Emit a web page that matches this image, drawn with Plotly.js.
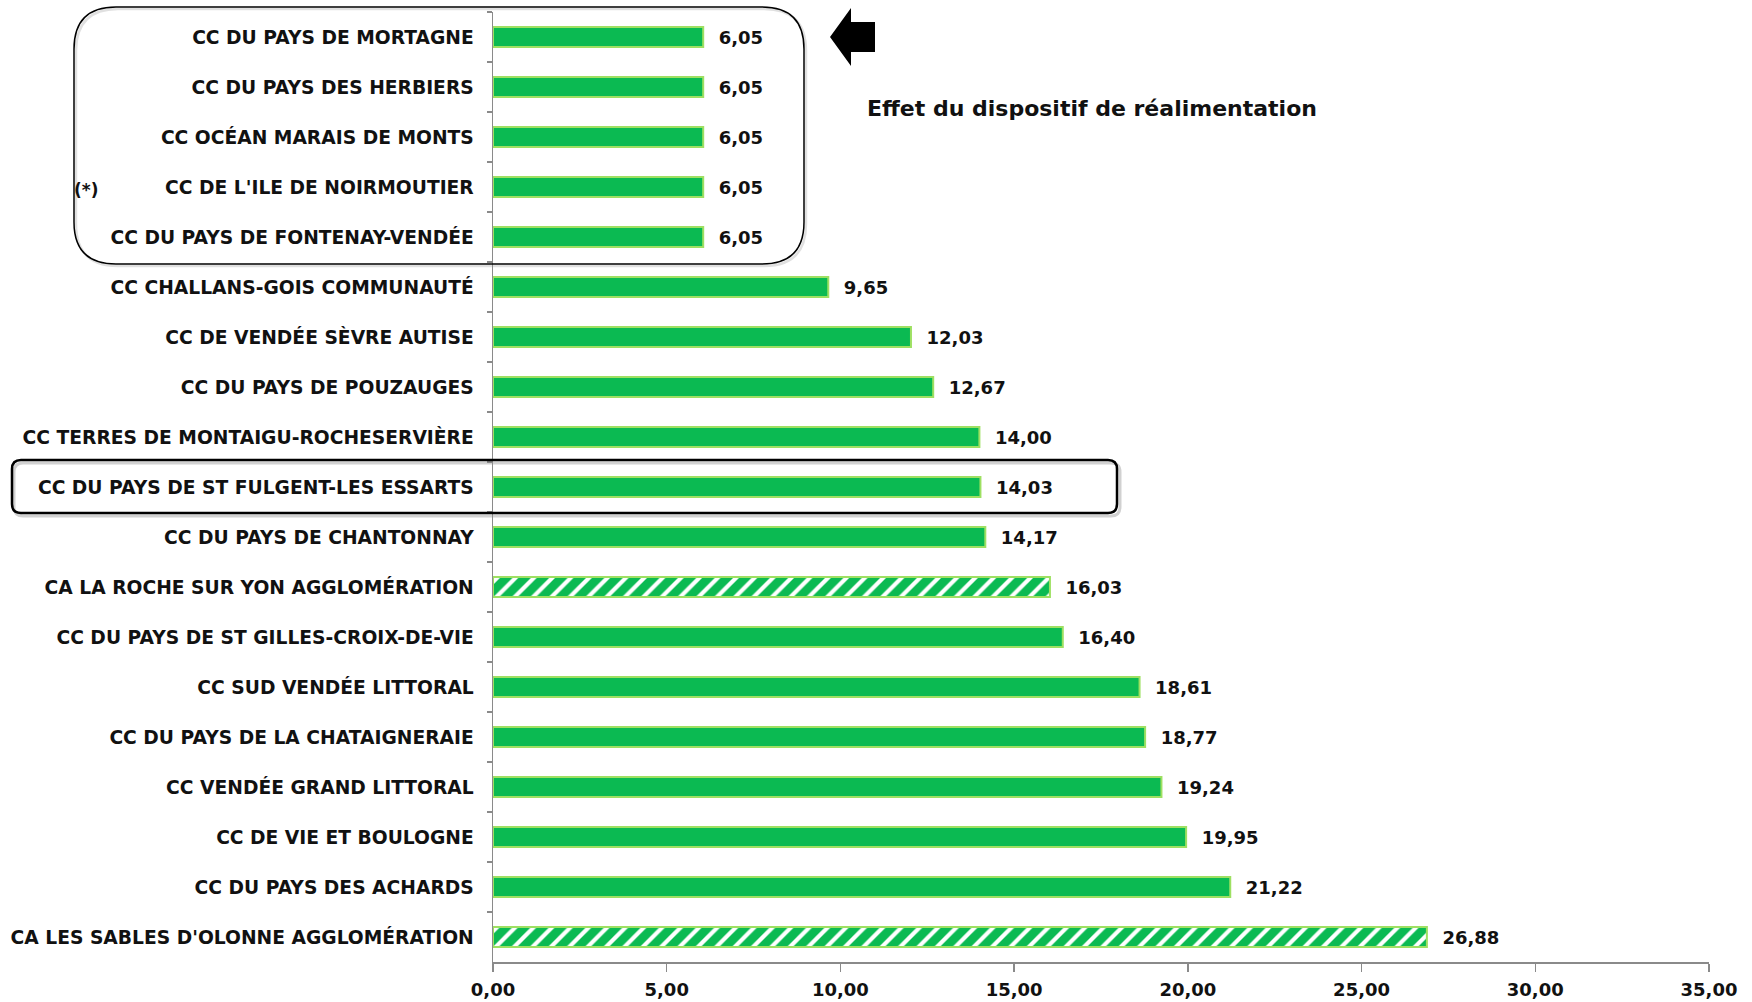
<!DOCTYPE html>
<html>
<head>
<meta charset="utf-8">
<script src="https://cdn.plot.ly/plotly-3.0.1.min.js"></script>
<style>html,body{margin:0;padding:0;background:#fff;}#chart{width:1752px;height:1002px;}</style>
</head>
<body>
<div id="chart"></div>
<script>
// ---- data (top to bottom) ----
var categories = [
  "CC DU PAYS DE MORTAGNE",
  "CC DU PAYS DES HERBIERS",
  "CC OCÉAN MARAIS DE MONTS",
  "CC DE L'ILE DE NOIRMOUTIER",
  "CC DU PAYS DE FONTENAY-VENDÉE",
  "CC CHALLANS-GOIS COMMUNAUTÉ",
  "CC DE VENDÉE SÈVRE AUTISE",
  "CC DU PAYS DE POUZAUGES",
  "CC TERRES DE MONTAIGU-ROCHESERVIÈRE",
  "CC DU PAYS DE ST FULGENT-LES ESSARTS",
  "CC DU PAYS DE CHANTONNAY",
  "CA LA ROCHE SUR YON AGGLOMÉRATION",
  "CC DU PAYS DE ST GILLES-CROIX-DE-VIE",
  "CC SUD VENDÉE LITTORAL",
  "CC DU PAYS DE LA CHATAIGNERAIE",
  "CC VENDÉE GRAND LITTORAL",
  "CC DE VIE ET BOULOGNE",
  "CC DU PAYS DES ACHARDS",
  "CA LES SABLES D'OLONNE AGGLOMÉRATION"
];
var values = [6.05, 6.05, 6.05, 6.05, 6.05, 9.65, 12.03, 12.67, 14.00, 14.03, 14.17, 16.03, 16.40, 18.61, 18.77, 19.24, 19.95, 21.22, 26.88];
var agglomeration = [false, false, false, false, false, false, false, false, false, false, false, true, false, false, false, false, false, false, true];
var xTicks = [0, 5, 10, 15, 20, 25, 30, 35];
var noteText = "Effet du dispositif de réalimentation";
var footnoteMark = "(*)";

// ---- layout geometry ----
var W = 1752, H = 1002;
var M = {l: 493, r: 43, t: 12, b: 40};
var PW = W - M.l - M.r, PH = H - M.t - M.b;
function px(x) { return (x - M.l) / PW; }
function py(y) { return (M.t + PH - y) / PH; }
function roundRect(x0, y0, x1, y1, r) {
  var p = [];
  p.push('M' + px(x0 + r) + ',' + py(y0));
  p.push('L' + px(x1 - r) + ',' + py(y0));
  p.push('Q' + px(x1) + ',' + py(y0) + ' ' + px(x1) + ',' + py(y0 + r));
  p.push('L' + px(x1) + ',' + py(y1 - r));
  p.push('Q' + px(x1) + ',' + py(y1) + ' ' + px(x1 - r) + ',' + py(y1));
  p.push('L' + px(x0 + r) + ',' + py(y1));
  p.push('Q' + px(x0) + ',' + py(y1) + ' ' + px(x0) + ',' + py(y1 - r));
  p.push('L' + px(x0) + ',' + py(y0 + r));
  p.push('Q' + px(x0) + ',' + py(y0) + ' ' + px(x0 + r) + ',' + py(y0));
  p.push('Z');
  return p.join(' ');
}
function poly(pts) {
  return pts.map(function (q, i) { return (i ? 'L' : 'M') + px(q[0]) + ',' + py(q[1]); }).join(' ') + ' Z';
}

var green = '#0BBA52';
var outline = '#9EE062';
var font = 'DejaVu Sans, sans-serif';

var trace = {
  type: 'bar',
  orientation: 'h',
  x: values,
  y: categories,
  marker: {
    color: green,
    line: {color: outline, width: 2},
    pattern: {
      shape: agglomeration.map(function (a) { return a ? '/' : ''; }),
      fgcolor: '#ffffff',
      bgcolor: green,
      size: 13,
      solidity: 0.32
    }
  },
  texttemplate: '\u00a0\u00a0%{x:.2f}',
  textposition: 'outside',
  constraintext: 'none',
  cliponaxis: false,
  textfont: {family: font, size: 18, color: '#111', weight: 'bold'},
  hoverinfo: 'skip'
};

var shapes = [
  // soft shadow of the highlight box
  {type: 'path', xref: 'paper', yref: 'paper', path: roundRect(14, 463, 1120, 516, 9),
   line: {color: 'rgba(0,0,0,0.18)', width: 3}, fillcolor: 'rgba(0,0,0,0)', layer: 'below'},
  {type: 'path', xref: 'paper', yref: 'paper', path: roundRect(12, 460, 1117, 513, 9),
   line: {color: '#000', width: 2.5}, fillcolor: 'rgba(0,0,0,0)'},
  // box around the first five categories
  {type: 'path', xref: 'paper', yref: 'paper', path: roundRect(76, 9, 806, 266, 42),
   line: {color: 'rgba(0,0,0,0.12)', width: 2.5}, fillcolor: 'rgba(0,0,0,0)', layer: 'below'},
  {type: 'path', xref: 'paper', yref: 'paper', path: roundRect(74, 7, 804, 264, 42),
   line: {color: '#000', width: 1.5}, fillcolor: 'rgba(0,0,0,0)'},
  // arrow
  {type: 'path', xref: 'paper', yref: 'paper',
   path: poly([[830, 37], [851, 8], [851, 22], [875, 22], [875, 52], [851, 52], [851, 66]]),
   line: {width: 0}, fillcolor: '#000'}
];

var annotations = [
  {xref: 'paper', yref: 'paper', x: px(865), y: py(108), xanchor: 'left', yanchor: 'middle',
   text: noteText, showarrow: false, font: {family: font, size: 22, color: '#111', weight: 'bold'}},
  {xref: 'paper', yref: 'paper', x: px(86), y: py(190), xanchor: 'center', yanchor: 'middle',
   text: footnoteMark, showarrow: false, font: {family: font, size: 17, color: '#111', weight: 'bold'}}
];

var layout = {
  width: W, height: H,
  margin: M,
  paper_bgcolor: '#fff', plot_bgcolor: '#fff',
  separators: ', ',
  showlegend: false,
  bargap: 0.6,
  xaxis: {
    range: [0, 35],
    tickvals: xTicks,
    tickformat: '.2f',
    showgrid: false, zeroline: false,
    showline: true, linecolor: '#8a8a8a', linewidth: 1.5,
    ticks: 'outside', ticklen: 8, tickcolor: '#8a8a8a', tickwidth: 1.5,
    ticklabelstandoff: 3,
    tickfont: {family: font, size: 18, color: '#111', weight: 'bold'},
    fixedrange: true
  },
  yaxis: {
    type: 'category',
    autorange: 'reversed',
    showgrid: false, zeroline: false,
    showline: true, linecolor: '#8a8a8a', linewidth: 1.5,
    ticks: 'outside', tickson: 'boundaries', ticklen: 5, tickcolor: '#8a8a8a', tickwidth: 1.5,
    ticklabelstandoff: 14,
    tickfont: {family: font, size: 18.7, color: '#111', weight: 'bold'},
    fixedrange: true
  },
  shapes: shapes,
  annotations: annotations
};

Plotly.newPlot('chart', [trace], layout, {displayModeBar: false, staticPlot: true});
</script>
</body>
</html>
